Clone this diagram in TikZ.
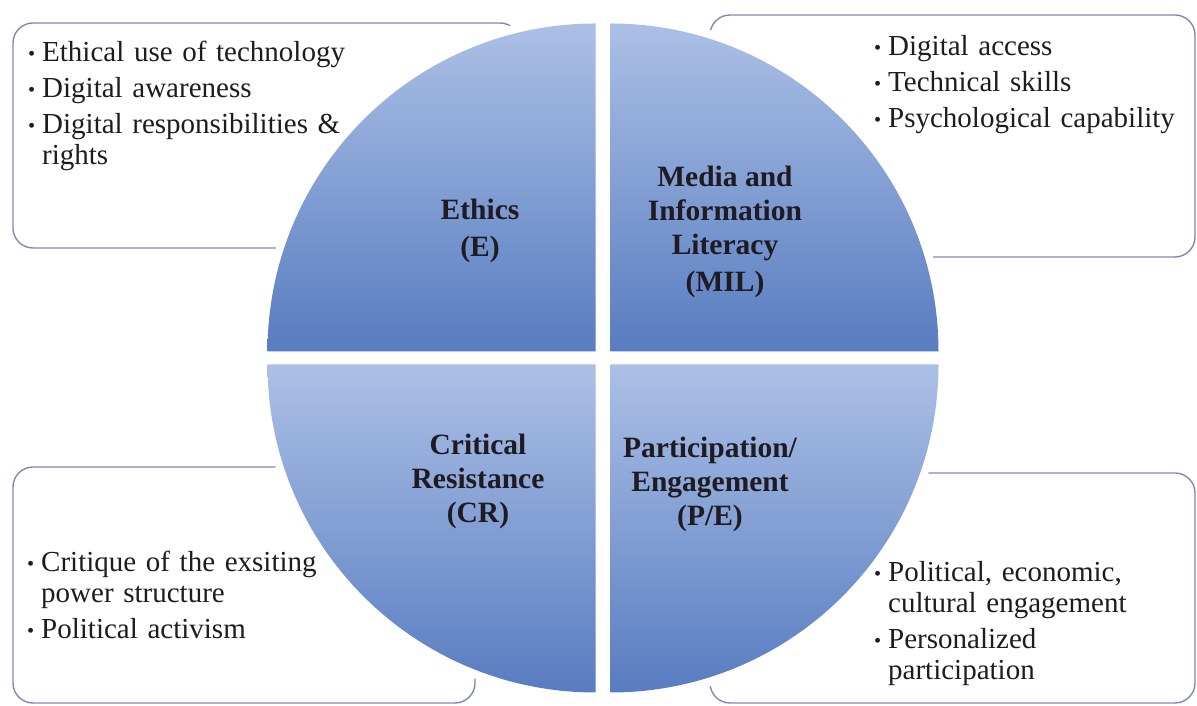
\documentclass[tikz,border=0pt]{standalone}
\usepackage{fontspec}
\setmainfont{Liberation Serif}
\usepackage{graphicx}
\definecolor{qlight}{RGB}{172,192,230}
\definecolor{qdark}{RGB}{88,124,192}
\definecolor{marco}{RGB}{128,138,176}
\definecolor{texto}{RGB}{30,28,34}
% vineta con sangria francesa
\newcommand{\punto}[1]{\par\noindent\hangindent=14pt\hangafter=1\makebox[14pt][l]{\raisebox{0.04em}{\scalebox{0.7}{\textbullet}}}#1\par}
\newcommand{\fuente}{\fontsize{29}{31}\selectfont\raggedright\setlength{\parskip}{5pt}}

\begin{document}
\begin{tikzpicture}[x=1pt,y=1pt,
	caja/.style={draw=marco,line width=1.4pt,fill=white,rounded corners=20pt},
	lista/.style={anchor=north west,inner sep=0pt,text width=330pt,font=\fuente,text=texto},
	eje/.style={align=center,inner sep=0pt,font=\fontsize{29.5}{34}\selectfont\bfseries,text=texto},
	cuarto/.style={top color=qlight,bottom color=qdark}]
	\useasboundingbox (0,0) rectangle (1197,706);
	% cajas
	\draw[caja] (13,458) rectangle (520,683);
	\draw[caja] (710,449) rectangle (1195,691);
	\draw[caja] (13,3) rectangle (475,239);
	\draw[caja] (710,3) rectangle (1195,233);
	% halo blanco
	\fill[white] (603,348) circle [radius=345];
	% cuadrantes
	\shade[cuarto] (595.5,354.5) -- ++(180:328) arc [start angle=180, end angle=90, radius=328] -- cycle;
	\shade[cuarto] (610.5,354.5) -- ++(0:328) arc [start angle=0, end angle=90, radius=328] -- cycle;
	\shade[cuarto] (595.5,341.5) -- ++(180:328) arc [start angle=180, end angle=270, radius=328] -- cycle;
	\shade[cuarto] (610.5,341.5) -- ++(0:328) arc [start angle=0, end angle=-90, radius=328] -- cycle;
	% etiquetas
	\node[eje] (ne) at (480,475) {Ethics\\[3pt](E)};
	\node[eje] (nmil) at (725,474) {Media and\\Information\\Literacy\\[3pt](MIL)};
	\node[eje] (ncr) at (478,225) {Critical\\Resistance\\(CR)};
	\node[eje] (npe) at (710,222) {Participation/\\Engagement\\(P/E)};
	% listas
	\node[lista] (le) at (28,681) {\punto{Ethical use of technology}\punto{Digital awareness}\punto{Digital responsibilities \&\newline rights}};
	\node[lista] (lmil) at (874,687) {\punto{Digital access}\punto{Technical skills}\punto{Psychological capability}};
	\node[lista] (lcr) at (27,171) {\punto{Critique of the exsiting\newline power structure}\punto{Political activism}};
	\node[lista] (lpe) at (874,161) {\punto{Political, economic,\newline cultural engagement}\punto{Personalized\newline participation}};
\end{tikzpicture}
\end{document}
